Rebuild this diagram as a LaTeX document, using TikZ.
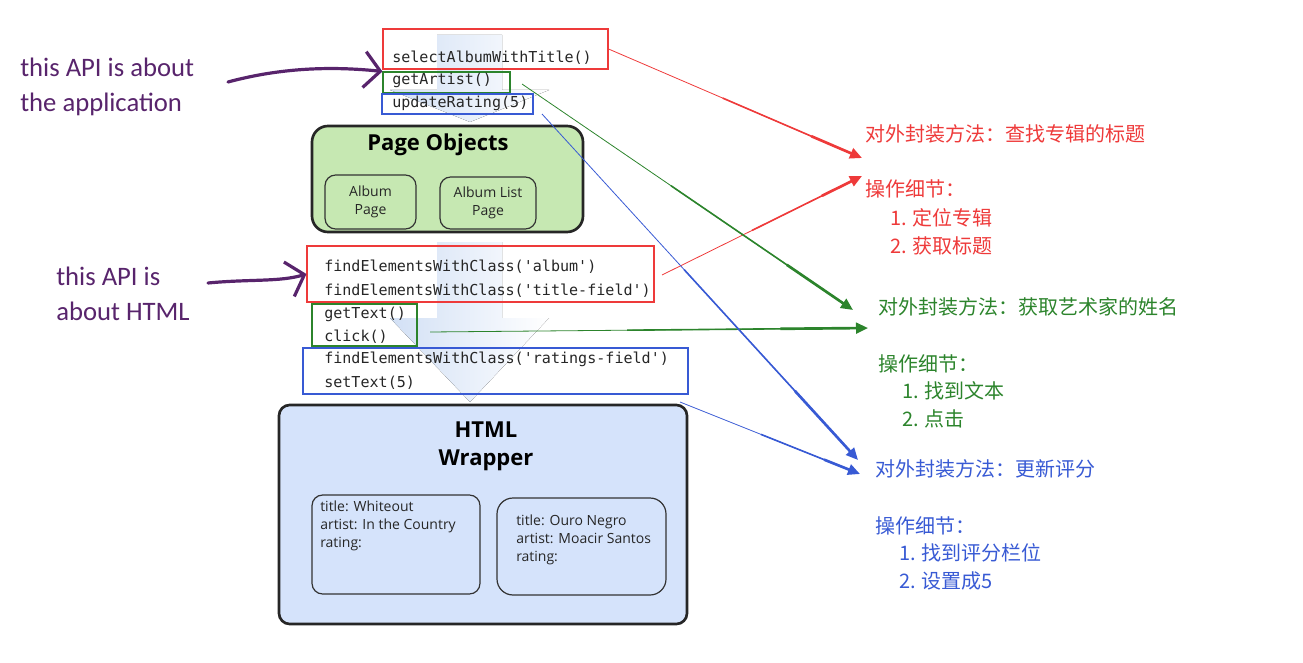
\documentclass[tikz,border=0pt]{standalone}
\usepackage{fontspec}
\setmainfont{Open Sans}
\newfontfamily\codefont{DejaVu Sans Mono}
\newfontfamily\cjk{Noto Sans CJK SC}
\newfontfamily\handfont{Carlito}
\usetikzlibrary{arrows.meta,calc,fit}

\definecolor{apired}{RGB}{238,58,58}
\definecolor{apigreen}{RGB}{44,132,44}
\definecolor{apiblue}{RGB}{56,90,212}
\definecolor{notepurple}{RGB}{88,36,108}
\definecolor{pagegreen}{RGB}{198,232,178}
\definecolor{htmlblue}{RGB}{213,227,251}
\definecolor{flowblue}{RGB}{210,224,245}

\tikzset{
  codebox/.style={draw=#1, line width=0.8pt, inner sep=0pt},
  code/.style={font=\codefont\fontsize{11.3}{13}\selectfont, text=black!85, inner sep=0pt, anchor=base west},
  note/.style={font=\handfont\fontsize{20}{26}\selectfont, text=notepurple, align=left, inner sep=0pt, anchor=west},
  hand/.style={draw=notepurple, line width=2.4pt, line cap=round, line join=round, -{Straight Barb[length=12pt,width=27pt]}},
  layer/.style={draw=black!85, line width=2pt, rounded corners=12pt, inner sep=0pt},
  card/.style={draw=black!80, line width=0.9pt, rounded corners=8pt, inner sep=0pt},
  small/.style={font=\fontsize{10.5}{13.5}\selectfont, text=black!85, inner sep=0pt},
  heading/.style={font=\bfseries\fontsize{16.5}{21}\selectfont, align=center, inner sep=0pt},
  cn/.style={font=\cjk\fontsize{15}{20}\selectfont, text=#1, anchor=west, inner sep=0pt},
  link/.style={draw=#1, line width=0.6pt, shorten >=6pt},
  linkmid/.style={draw=#1, line width=1.2pt, shorten >=6pt},
  linkhead/.style={draw=#1, line width=2pt, -{Triangle[length=9pt,width=8pt]}},
  flow/.style={left color=flowblue, right color=white, draw=none},
}

\begin{document}
\begin{tikzpicture}[x=0.75pt,y=-0.75pt]
\useasboundingbox (0,0) rectangle (1303,663);

% faint down arrows behind the stack
\fill[flow] (437,35) -- (502,35) -- (502,90) -- (549,90) -- (470,122) -- (390,90) -- (437,90) -- cycle;
\fill[flow] (437,242) -- (502,242) -- (502,318) -- (549,318) -- (470,402) -- (390,318) -- (437,318) -- cycle;

% application level calls
\node[codebox=apired, fit={(383,29) (608,69)}] (selbox) {};
\node[codebox=apigreen, fit={(383,72) (510,93)}] (artbox) {};
\node[codebox=apiblue, fit={(382,94) (533,114)}] (ratebox) {};
\node[code] (seltxt) at (392,63) {selectAlbumWithTitle()};
\node[code] (arttxt) at (392,85) {getArtist()};
\node[code] (ratetxt) at (392,108) {updateRating(5)};

% page objects
\node[layer, fill=pagegreen, fit={(312,126) (583,232)}] (pageobj) {};
\node[heading] (pagetitle) at (438,145) {Page Objects};
\node[card, fit={(325,175) (416,229)}] (albumcard) {};
\node[card, fit={(440,177) (536,229)}] (listcard) {};
\node[small, align=center] (albumtxt) at (albumcard.center) {Album\\Page};
\node[small, align=center] (listtxt) at (listcard.center) {Album List\\Page};

% html level calls
\node[codebox=apired, fit={(307,246) (654,302)}] (findbox) {};
\node[codebox=apigreen, fit={(312,304) (417,346)}] (clickbox) {};
\node[codebox=apiblue, fit={(303,348) (688,394)}] (setbox) {};
\node[code] (albumcls) at (324,272) {findElementsWithClass('album')};
\node[code] (titlecls) at (324,295) {findElementsWithClass('title-field')};
\node[code] (gettxt) at (324,318) {getText()};
\node[code] (clicktxt) at (324,341) {click()};
\node[code] (ratecls) at (324,363) {findElementsWithClass('ratings-field')};
\node[code] (settxt) at (324,387) {setText(5)};

% html wrapper
\node[layer, fill=htmlblue, rounded corners=8pt, fit={(279,405) (687,624)}] (wrapper) {};
\node[heading] (wraptitle) at (486,446) {HTML\\Wrapper};
\node[card, fit={(312,495) (480,594)}] (whitecard) {};
\node[card, rounded corners=12pt, fit={(497,498) (666,595)}] (ourocard) {};
\node[small, align=left, anchor=west] (whitetxt) at (320,526) {title: Whiteout\\artist: In the Country\\rating:};
\node[small, align=left, anchor=west] (ourotxt) at (516,540) {title: Ouro Negro\\artist: Moacir Santos\\rating:};

% notes
\node[note] (appnote) at (20,87) {this API is about\\the application};
\node[note] (htmlnote) at (56,294) {this API is\\about HTML};
\coordinate (appfrom) at (228,82);
\coordinate (htmlfrom) at (208,283);
\draw[hand] (appfrom) .. controls (280,68) and (330,66) .. (artbox.north west);
\draw[hand] (htmlfrom) .. controls (250,279) and (280,282) .. (findbox.west);

% explanations
\node[cn=apired] (redapi) at (865,134) {对外封装方法：查找专辑的标题};
\node[cn=apired] (redops) at (865,189) {操作细节：};
\node[cn=apired] (redone) at (890,218) {1. 定位专辑};
\node[cn=apired] (redtwo) at (890,246) {2. 获取标题};
\node[cn=apigreen] (greenapi) at (878,307) {对外封装方法：获取艺术家的姓名};
\node[cn=apigreen] (greenops) at (878,364) {操作细节：};
\node[cn=apigreen] (greenone) at (902,391) {1. 找到文本};
\node[cn=apigreen] (greentwo) at (902,419) {2. 点击};
\node[cn=apiblue] (blueapi) at (875,469) {对外封装方法：更新评分};
\node[cn=apiblue] (blueops) at (875,526) {操作细节：};
\node[cn=apiblue] (blueone) at (899,553) {1. 找到评分栏位};
\node[cn=apiblue] (bluetwo) at (899,581) {2. 设置成5};

% links
\coordinate (redin) at (862,158);
\coordinate (redin2) at (862,176);
\coordinate (greenin) at (853,310);
\coordinate (greenin2) at (868,328);
\coordinate (bluein) at (858,460);
\coordinate (bluein2) at (860,474);
\coordinate (redout2) at (662,275);
\coordinate (greenout) at (522,84);
\coordinate (greenout2) at (430,332);
\coordinate (blueout) at (542,114);
\coordinate (blueout2) at (680,402);

\draw[link=apired] (selbox.east) -- (redin);
\draw[linkmid=apired] ($(selbox.east)!0.45!(redin)$) -- (redin);
\draw[linkhead=apired] ($(selbox.east)!0.8!(redin)$) -- (redin);
\draw[link=apired] (redout2) -- (redin2);
\draw[linkmid=apired] ($(redout2)!0.45!(redin2)$) -- (redin2);
\draw[linkhead=apired] ($(redout2)!0.8!(redin2)$) -- (redin2);

\draw[link=apigreen] (greenout) -- (greenin);
\draw[linkmid=apigreen] ($(greenout)!0.45!(greenin)$) -- (greenin);
\draw[linkhead=apigreen] ($(greenout)!0.8!(greenin)$) -- (greenin);
\draw[link=apigreen] (greenout2) -- (greenin2);
\draw[linkmid=apigreen] ($(greenout2)!0.45!(greenin2)$) -- (greenin2);
\draw[linkhead=apigreen] ($(greenout2)!0.8!(greenin2)$) -- (greenin2);

\draw[link=apiblue] (blueout) -- (bluein);
\draw[linkmid=apiblue] ($(blueout)!0.45!(bluein)$) -- (bluein);
\draw[linkhead=apiblue] ($(blueout)!0.8!(bluein)$) -- (bluein);
\draw[link=apiblue] (blueout2) -- (bluein2);
\draw[linkmid=apiblue] ($(blueout2)!0.45!(bluein2)$) -- (bluein2);
\draw[linkhead=apiblue] ($(blueout2)!0.8!(bluein2)$) -- (bluein2);
\end{tikzpicture}
\end{document}
